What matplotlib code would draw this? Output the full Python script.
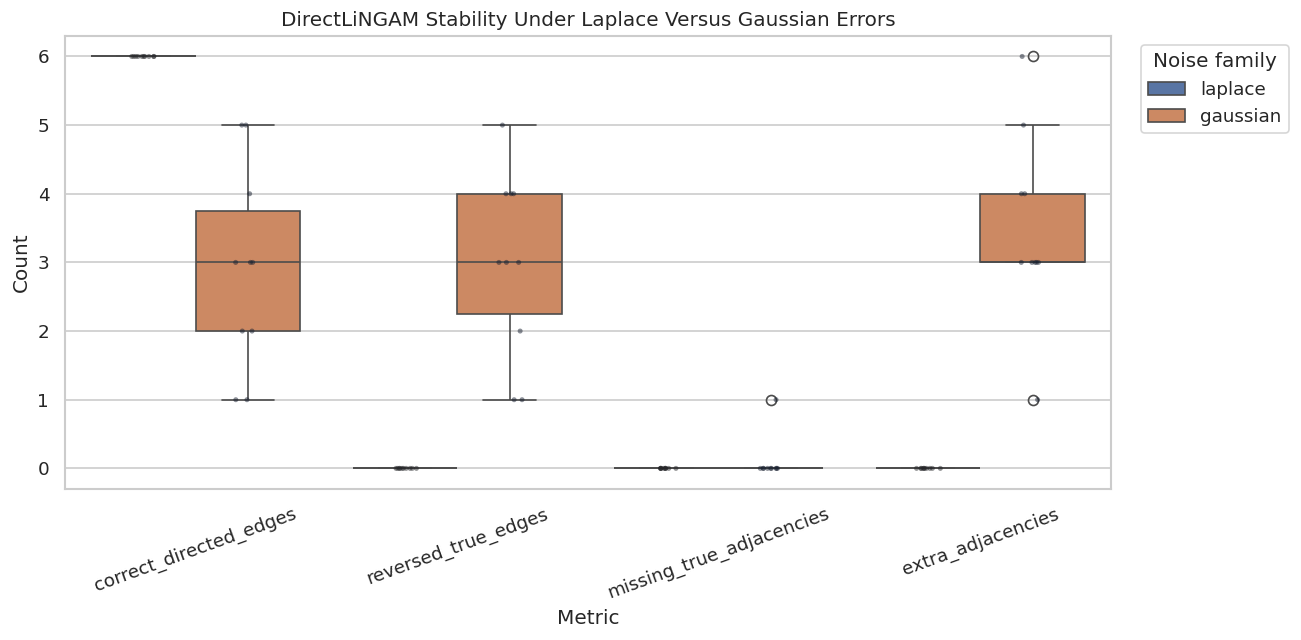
import numpy as np
import pandas as pd
import matplotlib
matplotlib.use("Agg")
import matplotlib.pyplot as plt
import seaborn as sns

# per-seed counts (10 runs per noise family)
metrics = ["correct_directed_edges", "reversed_true_edges",
           "missing_true_adjacencies", "extra_adjacencies"]
families = ["laplace", "gaussian"]

laplace_correct = [6, 6, 6, 6, 6, 6, 6, 6, 6, 6]
laplace_reversed = [0, 0, 0, 0, 0, 0, 0, 0, 0, 0]
laplace_missing = [0, 0, 0, 0, 0, 0, 0, 0, 0, 0]
laplace_extra = [0, 0, 0, 0, 0, 0, 0, 0, 0, 0]

gaussian_correct = [1, 1, 2, 2, 3, 3, 3, 4, 5, 5]
gaussian_reversed = [1, 1, 2, 3, 3, 3, 4, 4, 4, 5]
gaussian_missing = [0, 0, 0, 0, 0, 0, 0, 0, 0, 1]
gaussian_extra = [1, 3, 3, 3, 3, 3, 4, 4, 5, 6]

values = {
    "laplace": [laplace_correct, laplace_reversed, laplace_missing, laplace_extra],
    "gaussian": [gaussian_correct, gaussian_reversed, gaussian_missing, gaussian_extra],
}

rows = []
for fam in families:
    for metric, vals in zip(metrics, values[fam]):
        for v in vals:
            rows.append({"metric": metric, "count": v, "noise": fam})
df = pd.DataFrame(rows)

sns.set_theme(style="whitegrid")
np.random.seed(3)

fig, ax = plt.subplots(figsize=(1301 / 120, 640 / 120), dpi=120)
sns.boxplot(data=df, x="metric", y="count", hue="noise", order=metrics,
            hue_order=families, ax=ax)
sns.stripplot(data=df, x="metric", y="count", hue="noise", order=metrics,
              hue_order=families, dodge=True, color="#182030", alpha=0.5,
              size=3, legend=False, ax=ax)

ax.set_title("DirectLiNGAM Stability Under Laplace Versus Gaussian Errors")
ax.set_xlabel("Metric")
ax.set_ylabel("Count")
plt.setp(ax.get_xticklabels(), rotation=20)
ax.legend(title="Noise family", loc="upper left", bbox_to_anchor=(1.02, 1))

fig.subplots_adjust(left=0.05, right=0.854, top=0.944, bottom=0.236)
fig.savefig("out.png")
